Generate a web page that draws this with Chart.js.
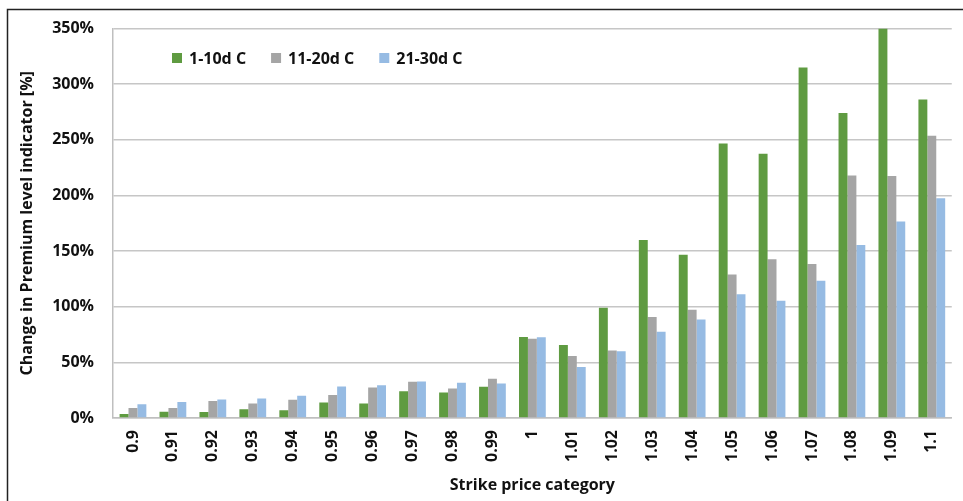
<!DOCTYPE html>
<html lang="en">

<head>
    <meta charset="UTF-8">
    <title>Change in Premium level indicator</title>
    <script src="https://cdn.jsdelivr.net/npm/chart.js"></script>
    <style>
        html, body {
            margin: 0;
            padding: 0;
            background: #fff;
        }
        #chartContainer {
            width: 963px;
            height: 501px;
        }
    </style>
</head>

<body>
    <div id="chartContainer">
        <canvas id="premiumChart" width="963" height="501"></canvas>
    </div>

    <script>
        // Strike price categories on the x axis
        const strikeCategories = ['0.9', '0.91', '0.92', '0.93', '0.94', '0.95', '0.96', '0.97', '0.98', '0.99',
            '1', '1.01', '1.02', '1.03', '1.04', '1.05', '1.06', '1.07', '1.08', '1.09', '1.1'];

        // Change in premium level indicator [%]
        const days1to10 = [3.6, 5.6, 5.4, 7.8, 6.9, 14, 13, 24, 23, 28,
            72.8, 65.6, 99, 160, 146.8, 246.8, 237.5, 315, 274.2, 350, 286.2];
        const days11to20 = [9, 9, 15.2, 13, 16.4, 20.6, 27.5, 32.5, 26.6, 35.2,
            71.3, 55.8, 60.6, 90.7, 97.3, 128.9, 142.6, 138.5, 218, 217.5, 253.6];
        const days21to30 = [12.3, 14.3, 16.7, 17.6, 20, 28.4, 29.5, 32.8, 31.6, 31,
            72.5, 45.9, 60, 77.6, 88.6, 111.3, 105.4, 123.3, 155.5, 176.6, 197.6];

        const seriesLabels = ['1-10d C', '11-20d C', '21-30d C'];
        const seriesColors = ['#5f9b41', '#a5a5a5', '#96bbe3'];

        const textColor = '#111';
        const font = { family: '"Open Sans", sans-serif', size: 16, weight: 'bold' };

        // frame lines (top and left only, like the cropped figure) plus the legend inside the plot
        const framePlugin = {
            id: 'frame',
            afterDraw(chart) {
                const ctx = chart.ctx;
                ctx.save();
                ctx.strokeStyle = '#222';
                ctx.lineWidth = 1.5;
                ctx.beginPath();
                ctx.moveTo(7.5, 501);
                ctx.lineTo(7.5, 9.5);
                ctx.lineTo(963, 9.5);
                ctx.stroke();

                // legend
                ctx.font = 'bold 16px "Open Sans", sans-serif';
                ctx.textBaseline = 'middle';
                ctx.textAlign = 'left';
                let x = 172;
                const y = 58;
                chart.data.datasets.forEach(ds => {
                    ctx.fillStyle = ds.backgroundColor;
                    ctx.fillRect(x, y - 5, 10, 10);
                    x += 17;
                    ctx.fillStyle = textColor;
                    ctx.fillText(ds.label, x, y + 1);
                    x += ctx.measureText(ds.label).width + 25;
                });
                ctx.restore();
            }
        };

        const ctx = document.getElementById('premiumChart').getContext('2d');
        const premiumChart = new Chart(ctx, {
            type: 'bar',
            data: {
                labels: strikeCategories,
                datasets: [
                    { label: seriesLabels[0], data: days1to10, backgroundColor: seriesColors[0] },
                    { label: seriesLabels[1], data: days11to20, backgroundColor: seriesColors[1] },
                    { label: seriesLabels[2], data: days21to30, backgroundColor: seriesColors[2] }
                ]
            },
            options: {
                responsive: false,
                animation: false,
                categoryPercentage: 0.67,
                barPercentage: 1.0,
                layout: {
                    padding: { top: 27, right: 0, bottom: 0, left: 0 }
                },
                plugins: {
                    legend: { display: false },
                    tooltip: { enabled: false }
                },
                scales: {
                    x: {
                        grid: { display: false, drawTicks: false },
                        border: { color: '#bfbfbf', width: 1.5 },
                        ticks: {
                            color: textColor,
                            font: font,
                            minRotation: 90,
                            maxRotation: 90,
                            padding: 12,
                            autoSkip: false
                        },
                        title: {
                            display: true,
                            text: 'Strike price category',
                            color: textColor,
                            font: font,
                            padding: { top: 0, bottom: 6 }
                        },
                        afterFit(scale) {
                            scale.height = 83;
                        }
                    },
                    y: {
                        min: 0,
                        max: 350,
                        grid: { color: '#c6c6c6', lineWidth: 1.5, drawTicks: false },
                        border: { color: '#bfbfbf', width: 1.5 },
                        ticks: {
                            stepSize: 50,
                            color: textColor,
                            font: font,
                            padding: 19,
                            callback: v => v + '%'
                        },
                        title: {
                            display: true,
                            text: 'Change in Premium level indicator [%]',
                            color: textColor,
                            font: font,
                            padding: { top: 18, bottom: 0 }
                        },
                        afterFit(scale) {
                            scale.width = 113;
                        }
                    }
                }
            },
            plugins: [framePlugin]
        });
    </script>
</body>

</html>
